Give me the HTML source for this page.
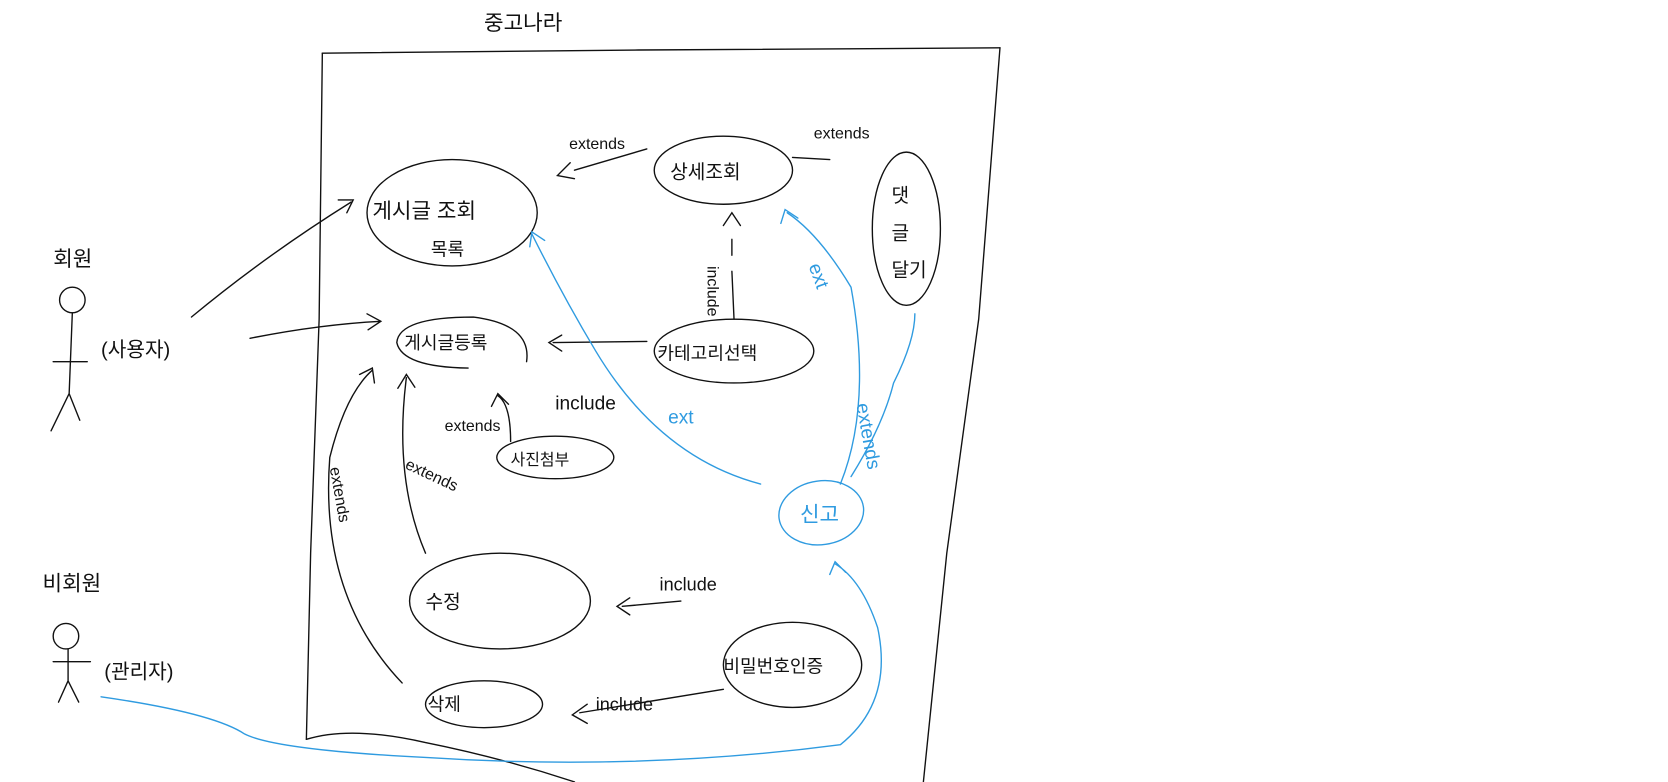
<!DOCTYPE html>
<html><head><meta charset="utf-8"><style>
html,body{margin:0;padding:0;background:#fff;}
svg{display:block}
text{font-family:"Liberation Sans","Noto Sans CJK KR",sans-serif;}
</style></head><body>
<svg width="1668" height="782" viewBox="0 0 1668 782" xmlns="http://www.w3.org/2000/svg">
<g transform="scale(1.0638)">
<g fill="none" stroke="#111" stroke-width="1.3" stroke-linecap="round">
<path d="M303,50 L600,47 L940,45"/>
<path d="M303,50 L300,300 L292,520 L288,695"/>
<path d="M940,45 L920,300 L890,520 L868,735"/>
<path d="M288,695 Q330,682 400,698 Q470,712 540,735"/>
<ellipse cx="425" cy="200" rx="80" ry="50"/>
<ellipse cx="680" cy="160" rx="65" ry="32"/>
<ellipse cx="852" cy="215" rx="32" ry="72"/>
<path d="M495,340 Q500,305 445,298 Q375,298 373,322 Q378,345 440,346"/>
<ellipse cx="690" cy="330" rx="75" ry="30"/>
<ellipse cx="522" cy="430" rx="55" ry="20"/>
<ellipse cx="470" cy="565" rx="85" ry="45"/>
<ellipse cx="745" cy="625" rx="65" ry="40"/>
<ellipse cx="455" cy="662" rx="55" ry="22"/>
<circle cx="68" cy="282" r="12"/>
<path d="M68,294 L65,370 M65,370 L48,405 M65,370 L75,395 M50,340 L82,340"/>
<circle cx="62" cy="598" r="12"/>
<path d="M64,610 L64,640 M64,640 L55,660 M64,640 L74,660 M50,622 L85,622"/>
<path d="M180,298 Q250,240 330,190 M318,188 L332,188 L326,200"/>
<path d="M235,318 Q300,305 358,302 M345,295 L358,302 L346,310"/>
<path d="M378,642 Q300,560 310,430 Q325,370 350,348 M338,352 L350,346 L352,360"/>
<path d="M400,520 Q370,450 382,355 M374,365 L382,352 L390,364"/>
<path d="M608,321 L520,322 M528,315 L516,322 L528,330"/>
<path d="M690,300 L688,255 M688,240 L688,225 M680,212 L688,200 L696,212"/>
<path d="M608,140 L540,160 M536,153 L524,165 L540,168"/>
<path d="M780,150 L745,148"/>
<path d="M480,415 Q480,380 468,372 M462,382 L468,370 L478,380"/>
<path d="M640,565 L585,570 M592,562 L580,570 L592,578"/>
<path d="M680,648 L545,670 M552,662 L538,672 L552,680"/>
</g>
<g fill="none" stroke="#2f9be0" stroke-width="1.3" stroke-linecap="round">
<ellipse cx="772" cy="482" rx="40" ry="30" transform="rotate(-8 772 482)"/>
<path d="M95,655 Q200,670 230,690 Q260,705 400,712 Q600,725 790,700 Q840,660 825,590 Q810,545 785,530 M780,540 L785,528 L795,538"/>
<path d="M715,455 Q620,430 560,330 Q530,280 500,220 M498,232 L500,218 L512,226"/>
<path d="M790,455 Q820,380 800,270 Q770,220 740,200 M734,210 L738,197 L750,205"/>
<path d="M800,448 Q830,400 840,360 Q860,320 860,295"/>
</g>
<g font-size="20" fill="#111">
<text x="455" y="28">중고나라</text>
<text x="350" y="205">게시글 조회</text>
<text x="405" y="240" font-size="17">목록</text>
<text x="630" y="168" font-size="18">상세조회</text>
<text x="838" y="190" font-size="18">댓</text>
<text x="838" y="225" font-size="18">글</text>
<text x="838" y="260" font-size="18">달기</text>
<text x="380" y="328" font-size="17">게시글등록</text>
<text x="618" y="338" font-size="17">카테고리선택</text>
<text x="480" y="437" font-size="15">사진첨부</text>
<text x="400" y="572" font-size="18">수정</text>
<text x="680" y="632" font-size="17">비밀번호인증</text>
<text x="402" y="668" font-size="17">삭제</text>
<text x="50" y="250">회원</text>
<text x="95" y="335" font-size="19">(사용자)</text>
<text x="40" y="555">비회원</text>
<text x="98" y="638" font-size="19">(관리자)</text>
<g font-size="15">
<text x="535" y="140">extends</text>
<text x="765" y="130">extends</text>
<text x="522" y="385" font-size="18">include</text>
<text x="418" y="405">extends</text>
<text x="380" y="440" transform="rotate(25 380 440)">extends</text>
<text x="620" y="555" font-size="17">include</text>
<text x="560" y="668" font-size="17">include</text>
<text x="700" y="285" transform="rotate(90 700 250)">include</text>
<text x="310" y="440" transform="rotate(80 310 440)">extends</text>
</g>
<g fill="#2f9be0" font-size="18">
<text x="628" y="398">ext</text>
<text x="760" y="250" transform="rotate(70 760 250)">ext</text>
<text x="805" y="380" transform="rotate(80 805 380)">extends</text>
<text x="752" y="490" font-size="20">신고</text>
</g>
</g>
</g>
</svg>
</body></html>
